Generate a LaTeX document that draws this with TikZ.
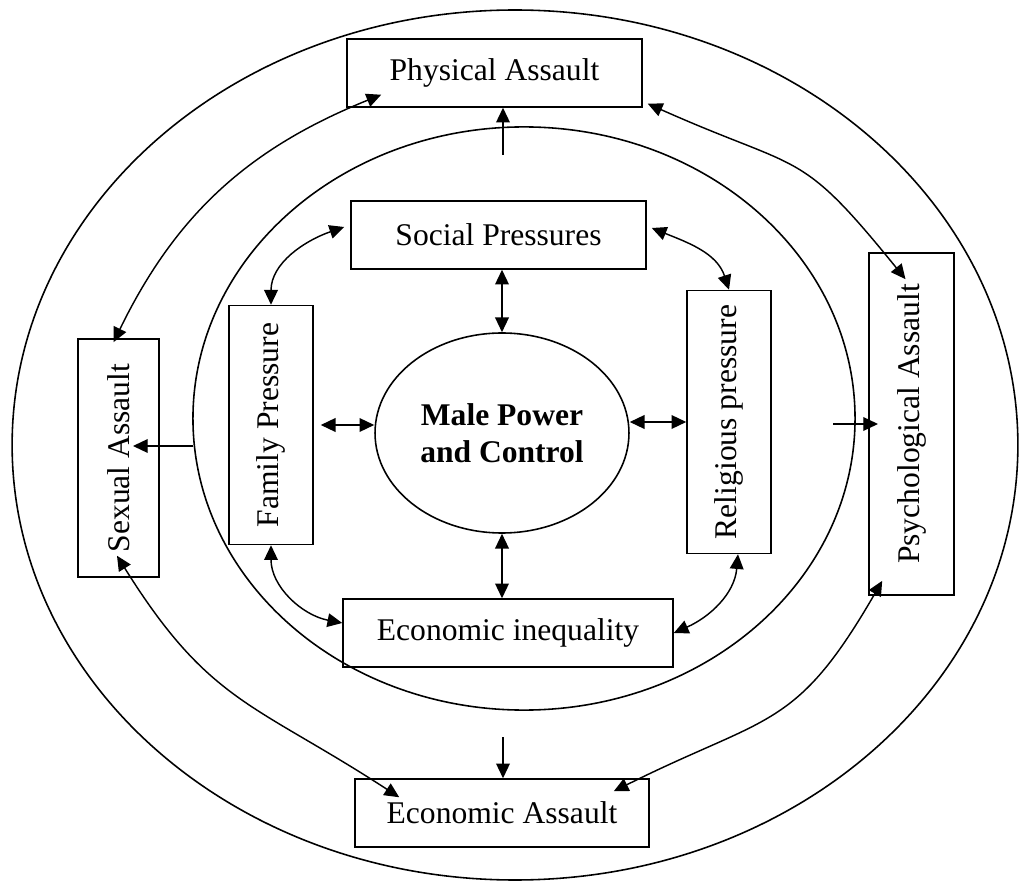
\documentclass[tikz,border=0pt]{standalone}
\usepackage{fontspec}
\setmainfont{Liberation Serif}
\usepackage{graphicx}
\usetikzlibrary{shapes.geometric, arrows.meta}
\tikzstyle{box} = [rectangle, draw=black, line width=0.6pt, inner sep=0pt, text centered]
\tikzstyle{core} = [ellipse, draw=black, line width=0.6pt, inner sep=0pt, minimum
width=96.5pt, minimum height=76pt, align=center, font=\fontsize{12}{14}\selectfont\bfseries]
\tikzstyle{ring} = [line width=0.6pt]
\tikzstyle{arrow} = [line width=0.55pt, -{Triangle[length=5.6pt,width=5.2pt]}]
\tikzstyle{dblarrow} = [line width=0.55pt, {Triangle[length=5.6pt,width=5.2pt]}-{Triangle[length=5.6pt,width=5.2pt]}]

\begin{document}
\begin{tikzpicture}[x=0.38pt, y=-0.38pt, font=\fontsize{12}{14}\selectfont]
  \useasboundingbox (0,0) rectangle (1019,882);

  \draw[ring] (515,445) ellipse [x radius=191.1pt, y radius=165.3pt];
  \draw[ring] (524,418.5) ellipse [x radius=125.8pt, y radius=110.8pt];

  \node (phys) [box, minimum width=112.1pt, minimum height=25.8pt] at (494.5,73) {Physical Assault};
  \node (soc) [box, minimum width=112.1pt, minimum height=25.8pt] at (498.5,235) {Social Pressures};
  \node (ineq) [box, minimum width=125.4pt, minimum height=25.8pt] at (508,633) {Economic inequality};
  \node (econ) [box, minimum width=111.7pt, minimum height=25.8pt] at (502,813) {Economic Assault};
  \node (fam) [box, minimum width=31.9pt, minimum height=90.8pt] at (271,425) {\rotatebox{90}{Family Pressure}};
  \node (sex) [box, minimum width=30.8pt, minimum height=90.4pt] at (118.5,458) {\rotatebox{90}{Sexual Assault}};
  \node (rel) [box, minimum width=31.9pt, minimum height=99.9pt] at (729,422) {\rotatebox{90}{Religious pressure}};
  \node (psy) [box, minimum width=32.3pt, minimum height=130pt] at (911.5,424) {\rotatebox{90}{Psychological Assault}};
  \node (male) [core] at (502,433) {Male Power\\and Control};

  \coordinate (pa) at (503,155);
  \coordinate (ea) at (503,737);
  \coordinate (sa) at (193,446);
  \coordinate (sat) at (133,446);
  \coordinate (ya) at (833,424);
  \coordinate (yat) at (878,424);

  \draw[arrow] (pa) -- (pa |- phys.south);
  \draw[arrow] (ea) -- (ea |- econ.north);
  \draw[arrow] (sa) -- (sat);
  \draw[arrow] (ya) -- (yat);

  \draw[dblarrow] (soc.south -| male.north) -- (male.north);
  \draw[dblarrow] (male.south) -- (male.south |- ineq.north);
  \draw[dblarrow] ([shift={(7,0)}]fam.east) -- (fam.east -| male.west);
  \draw[dblarrow] (rel.west -| male.east) -- (rel.west);

  \draw[dblarrow] ([shift={(-6,-8)}]soc.west) to[out=199, in=90] (fam.north);
  \draw[dblarrow] ([shift={(5,-7)}]soc.east) to[out=338, in=108] (rel.north);
  \draw[dblarrow] (fam.south) to[out=270, in=169] ([shift={(0,-10)}]ineq.west);
  \draw[dblarrow] ([shift={(9,0)}]rel.south) to[out=265, in=24] (ineq.east);

  \draw[dblarrow] ([shift={(35,-13)}]phys.south west) to[out=202, in=64] ([shift={(-5,4)}]sex.north);
  \draw[dblarrow] ([shift={(5,-4)}]phys.south east) to[out=336, in=129, looseness=1.4] ([shift={(-6,27)}]psy.north);
  \draw[dblarrow] ([shift={(-1.5,-22)}]sex.south) to[out=302, in=147, looseness=1.2] ([shift={(45,19)}]econ.north west);
  \draw[dblarrow] ([shift={(14,-15)}]psy.south west) to[out=240, in=26.5, looseness=1.3] ([shift={(-36,13)}]econ.north east);
\end{tikzpicture}
\end{document}
